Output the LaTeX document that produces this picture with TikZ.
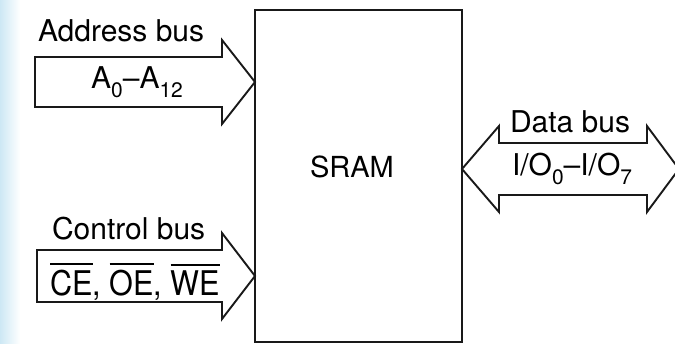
\documentclass[tikz,border=0pt]{standalone}
\usepackage{fontspec}
\setmainfont{TeX Gyre Heros}
\tikzset{
  bus/.style={draw=black!90, line width=1.9pt, line join=miter, fill=white},
  lbl/.style={anchor=base west, inner sep=0pt, outer sep=0pt, font=\fontsize{30}{36}\selectfont},
  box/.style={draw=black!90, line width=1.9pt, inner sep=0pt, outer sep=0pt}
}
\newcommand\mysub[1]{\raisebox{-0.3em}{\fontsize{21}{21}\selectfont #1}}
\newcommand\myovl[1]{\leavevmode\vbox{\hrule height 1.9pt\kern 4.5pt\hbox{#1}}}
\begin{document}
\begin{tikzpicture}[x=1pt,y=1pt]
\useasboundingbox (0,0) rectangle (675,-343);
\clip (0,0) rectangle (675,-343);
\shade[left color={rgb,255:red,205;green,232;blue,244}, right color=white] (0,0) rectangle (20,-343);
\node[box, minimum width=207pt, minimum height=332pt] (sram) at (358.5,-176) {};
\node[lbl, font=\fontsize{29}{34}\selectfont] (sramlbl) at (310,-177) {SRAM};
% address bus
\coordinate (atip) at (sram.west |- 0,-82);
\draw[bus] (35,-57) -- (222,-57) -- (222,-40) -- (atip) -- (222,-124) -- (222,-107) -- (35,-107) -- cycle;
% control bus
\coordinate (ctip) at (sram.west |- 0,-276);
\draw[bus] (37,-250) -- (222,-250) -- (222,-233) -- (ctip) -- (222,-319) -- (222,-302) -- (37,-302) -- cycle;
% data bus
\coordinate (dtip) at (sram.east |- 0,-169);
\coordinate (dend) at (679,-169);
\draw[bus] (dtip) -- (499,-126) -- (499,-143) -- (647,-143) -- (647,-126) -- (dend) -- (647,-212) -- (647,-195) -- (499,-195) -- (499,-212) -- cycle;
% labels
\node[lbl] (abus) at (38,-41) {Address bus};
\node[lbl] (cbus) at (52,-239) {Control bus};
\node[lbl] (dbus) at (510,-132) {Data bus};
\node[lbl, anchor=base] (alines) at (137,-88) {A\mysub{0}--A\mysub{12}};
\node[lbl, font=\fontsize{34}{40}\selectfont] (clines) at (50,-295) {\scalebox{0.9}[1]{\myovl{CE}, \myovl{OE}, \myovl{WE}}};
\node[lbl] (dlines) at (512,-175) {I/O\mysub{0}--I/O\mysub{7}};
\end{tikzpicture}
\end{document}
